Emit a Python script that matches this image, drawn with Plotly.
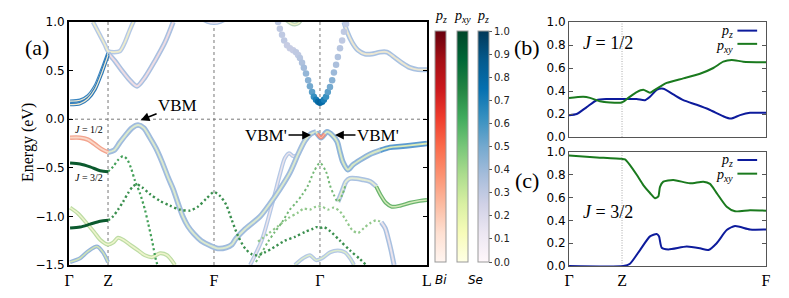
import plotly.graph_objects as go

# ---------------- high-symmetry path ----------------
kpath_pos = [0.0, 0.109, 0.405, 0.701, 1.0]
kpath_lab = ["Γ", "Z", "F", "Γ", "L"]
e_ticks = [-1.5, -1.0, -0.5, 0.0, 0.5, 1.0]

# ---------------- bands (k, E in eV) ----------------
A1_k = [0.003, 0.031, 0.053, 0.073, 0.092, 0.109]
A1_e = [0.15, 0.16, 0.21, 0.31, 0.48, 0.66]
A1b_e = [0.185, 0.195, 0.24, 0.34, 0.51, 0.68]

A2_k = [0.109, 0.128, 0.148, 0.170, 0.190, 0.212, 0.240, 0.268, 0.291]
A2_e = [0.68, 0.60, 0.50, 0.40, 0.34, 0.43, 0.60, 0.79, 1.0]

B_k = [0.067, 0.087, 0.101, 0.109, 0.126, 0.142, 0.156, 0.170, 0.182]
B_e = [1.0, 0.86, 0.76, 0.70, 0.69, 0.70, 0.79, 0.92, 1.02]

C_k = [0.584, 0.589, 0.595, 0.601, 0.609, 0.617, 0.626, 0.634, 0.640, 0.645, 0.651,
       0.656, 0.662, 0.668, 0.673, 0.679, 0.684, 0.690, 0.696, 0.701, 0.707, 0.712,
       0.718, 0.723, 0.729, 0.735, 0.740, 0.746, 0.751, 0.757, 0.763, 0.768, 0.774]
C_e = [1.0, 0.93, 0.87, 0.81, 0.76, 0.73, 0.71, 0.69, 0.66, 0.63, 0.58,
       0.53, 0.47, 0.40, 0.34, 0.28, 0.23, 0.20, 0.18, 0.17, 0.18, 0.20,
       0.23, 0.28, 0.33, 0.40, 0.48, 0.56, 0.64, 0.73, 0.81, 0.90, 0.98]
C_w = [0.3, 0.3, 0.3, 0.3, 0.28, 0.28, 0.28, 0.3, 0.3, 0.32, 0.35,
       0.38, 0.42, 0.45, 0.5, 0.55, 0.62, 0.7, 0.78, 0.82, 0.78, 0.7,
       0.62, 0.55, 0.5, 0.45, 0.4, 0.36, 0.34, 0.32, 0.3, 0.3, 0.3]

D_k = [0.768, 0.777, 0.791, 0.807, 0.827, 0.846, 0.869, 0.888, 0.908, 0.930, 0.953, 0.975, 1.0]
D_e = [1.0, 0.90, 0.79, 0.71, 0.67, 0.67, 0.69, 0.69, 0.64, 0.58, 0.53, 0.51, 0.51]

E1_k = [0.366, 0.385, 0.405, 0.425, 0.444]
E1_e = [1.04, 1.005, 0.99, 1.005, 1.04]
E2_k = [0.600, 0.620, 0.631, 0.642, 0.651]
E2_e = [1.04, 0.985, 0.975, 0.99, 1.04]

V1a_k = [0.003, 0.031, 0.053, 0.073, 0.092, 0.109]
V1a_e = [-0.19, -0.19, -0.21, -0.26, -0.31, -0.34]

V1b_k = [0.109, 0.126, 0.142, 0.159, 0.176, 0.193, 0.209, 0.226, 0.243, 0.260, 0.277,
         0.291, 0.304, 0.318, 0.332, 0.349, 0.369, 0.394, 0.416, 0.439, 0.455, 0.466,
         0.492, 0.534, 0.561, 0.589, 0.617, 0.640, 0.659, 0.676, 0.690]
V1b_e = [-0.34, -0.32, -0.24, -0.16, -0.09, -0.06, -0.09, -0.19, -0.30, -0.44, -0.60,
         -0.72, -0.86, -1.00, -1.10, -1.18, -1.25, -1.30, -1.33, -1.32, -1.29, -1.23,
         -1.13, -1.00, -0.87, -0.72, -0.55, -0.36, -0.22, -0.15, -0.13]

V1c_k = [0.690, 0.704, 0.721, 0.737, 0.749, 0.757, 0.765, 0.779, 0.793, 0.813,
         0.841, 0.869]
V1c_e = [-0.13, -0.19, -0.13, -0.17, -0.23, -0.34, -0.44, -0.52, -0.47, -0.42,
         -0.36, -0.32]
V1d_k = [0.869, 0.897, 0.925, 0.953, 1.0]
V1d_e = [-0.32, -0.29, -0.28, -0.27, -0.25]

R_k = [0.694, 0.704, 0.714]
R_e = [-0.15, -0.19, -0.15]

DG1_k = [0.003, 0.031, 0.059, 0.087, 0.109]
DG1_e = [-0.45, -0.46, -0.49, -0.53, -0.54]
DG2_e = [-1.12, -1.11, -1.08, -1.05, -1.04]

V2_k = [0.109, 0.123, 0.137, 0.151, 0.162, 0.173, 0.184, 0.198, 0.212, 0.221, 0.232, 0.243, 0.249]
V2_e = [-0.54, -0.49, -0.42, -0.38, -0.41, -0.50, -0.63, -0.76, -0.93, -1.07, -1.25, -1.45, -1.52]

G1_k = [0.109, 0.123, 0.137, 0.151, 0.165, 0.179, 0.190, 0.204, 0.226, 0.254, 0.282,
        0.310, 0.338, 0.360, 0.383, 0.405, 0.422, 0.439, 0.455, 0.472, 0.492, 0.511,
        0.528, 0.547, 0.567, 0.603, 0.631, 0.659, 0.679, 0.690, 0.701, 0.712, 0.729,
        0.757, 0.785, 0.813, 0.830]
G1_e = [-1.04, -1.00, -0.93, -0.85, -0.76, -0.69, -0.67, -0.70, -0.77, -0.84, -0.89,
        -0.93, -0.94, -0.90, -0.82, -0.75, -0.79, -0.88, -1.04, -1.20, -1.33, -1.39,
        -1.40, -1.37, -1.33, -1.25, -1.21, -1.16, -1.13, -1.11, -1.12, -1.11, -1.15,
        -1.25, -1.35, -1.44, -1.50]

LG1_k = [0.003, 0.025, 0.047, 0.070, 0.087, 0.109, 0.123, 0.137, 0.151, 0.170,
         0.193, 0.212, 0.232, 0.254, 0.274, 0.296]
LG1_e = [-0.91, -0.97, -1.06, -1.16, -1.24, -1.29, -1.27, -1.22, -1.24, -1.29,
         -1.35, -1.40, -1.42, -1.38, -1.40, -1.50]

BL_k = [0.003, 0.031, 0.053, 0.078, 0.095, 0.109]
BL_e = [-1.47, -1.43, -1.36, -1.31, -1.37, -1.47]

G2_k = [0.528, 0.556, 0.584, 0.612, 0.640, 0.656, 0.673, 0.690, 0.707, 0.723, 0.740,
        0.757, 0.774, 0.791, 0.807, 0.824, 0.841, 0.858, 0.872]
G2_e = [-1.26, -1.18, -1.10, -1.02, -0.96, -0.92, -0.93, -0.90, -0.90, -0.93, -0.91,
        -0.95, -1.04, -1.14, -1.17, -1.12, -1.07, -1.04, -1.06]

BT_k = [0.872, 0.883, 0.891, 0.899, 0.908]
BT_e = [-1.06, -1.12, -1.22, -1.34, -1.50]

P_k = [0.522, 0.539, 0.556, 0.575, 0.595, 0.617, 0.634, 0.651, 0.668, 0.684, 0.701,
       0.718, 0.729, 0.740, 0.751, 0.763, 0.774]
P_e = [-1.47, -1.37, -1.26, -1.16, -1.06, -0.93, -0.86, -0.78, -0.68, -0.54, -0.45,
       -0.54, -0.68, -0.78, -0.85, -0.78, -0.66]

G3a_k = [0.751, 0.763, 0.774, 0.785, 0.802, 0.818, 0.841, 0.858]
G3a_e = [-0.85, -0.74, -0.64, -0.61, -0.61, -0.62, -0.64, -0.69]
G3b_k = [0.858, 0.872, 0.885, 0.902, 0.925, 0.953, 0.980, 1.0]
G3b_e = [-0.69, -0.79, -0.86, -0.90, -0.89, -0.86, -0.84, -0.83]

VX_k = [0.506, 0.539, 0.567, 0.589, 0.603, 0.615, 0.626, 0.640]
VX_e = [-1.50, -1.24, -0.88, -0.57, -0.40, -0.35, -0.38, -0.37]

G4_k = [0.631, 0.654, 0.673, 0.690, 0.707, 0.729, 0.751, 0.771, 0.785, 0.796]
G4_e = [-1.50, -1.43, -1.40, -1.45, -1.43, -1.37, -1.35, -1.37, -1.43, -1.50]

# ---------------- orbital weights, panels (b) and (c) ----------------
pb_z_k = [0.0, 0.0158, 0.0364, 0.0569, 0.0775, 0.1083, 0.1392, 0.1562, 0.1665, 0.1803,
          0.1939, 0.2144, 0.2350, 0.2625, 0.2899, 0.3172, 0.3324, 0.3516, 0.3721, 0.405]
pb_z = [0.19, 0.20, 0.26, 0.32, 0.33, 0.33, 0.33, 0.32, 0.35, 0.41,
        0.42, 0.37, 0.32, 0.28, 0.235, 0.18, 0.16, 0.19, 0.21, 0.21]
pb_xy_k = [0.0, 0.0294, 0.0432, 0.0637, 0.0843, 0.1083, 0.1219, 0.1392, 0.1527, 0.1665,
           0.1803, 0.2009, 0.2350, 0.2693, 0.2967, 0.3172, 0.3345, 0.3583, 0.405]
pb_xy = [0.34, 0.35, 0.34, 0.31, 0.30, 0.30, 0.34, 0.39, 0.41, 0.385,
         0.42, 0.47, 0.51, 0.55, 0.60, 0.655, 0.67, 0.655, 0.65]

pc_xy_k = [0.0, 0.0500, 0.1083, 0.1151, 0.1254, 0.1392, 0.1527, 0.1665, 0.1768, 0.1836,
           0.1871, 0.1939, 0.2144, 0.2488, 0.2761, 0.2899, 0.3036, 0.3242, 0.3413, 0.3721, 0.405]
pc_xy = [0.97, 0.955, 0.94, 0.935, 0.885, 0.80, 0.71, 0.64, 0.595, 0.61,
         0.695, 0.74, 0.755, 0.725, 0.74, 0.72, 0.64, 0.52, 0.48, 0.49, 0.485]
pc_z_k = [0.0, 0.1117, 0.1254, 0.1460, 0.1665, 0.1803, 0.1850, 0.1906, 0.2042, 0.2420,
          0.2693, 0.2864, 0.3036, 0.3242, 0.3413, 0.3721, 0.405]
pc_z = [0.0, 0.0, 0.02, 0.14, 0.26, 0.28, 0.26, 0.16, 0.145, 0.17,
        0.155, 0.14, 0.20, 0.315, 0.35, 0.32, 0.32]

cb_ticks = [0.0, 0.1, 0.2, 0.3, 0.4, 0.5, 0.6, 0.7, 0.8, 0.9, 1.0]

SERIF = "Liberation Serif"
SANS = "DejaVu Sans"

fig = go.Figure()


def tube(k, e, outer, inner, wo=5.0, wi=2.0):
    fig.add_trace(go.Scatter(x=k, y=e, mode="lines", hoverinfo="skip", showlegend=False,
                             line=dict(color=outer, width=wo, shape="spline", smoothing=0.8)))
    fig.add_trace(go.Scatter(x=k, y=e, mode="lines", hoverinfo="skip", showlegend=False,
                             line=dict(color=inner, width=wi, shape="spline", smoothing=0.8)))


def dots(k, e, color, w=2.2, gap="2.2px,2.6px"):
    fig.add_trace(go.Scatter(x=k, y=e, mode="lines", hoverinfo="skip", showlegend=False,
                             line=dict(color=color, width=w, dash=gap, shape="spline", smoothing=0.8)))


def solid(k, e, color, w=3.0, xa="x", ya="y", smooth=0.8):
    fig.add_trace(go.Scatter(x=k, y=e, mode="lines", hoverinfo="skip", showlegend=False,
                             xaxis=xa, yaxis=ya,
                             line=dict(color=color, width=w, shape="spline", smoothing=smooth)))


LB_OUT, LB_IN = "#a9c0e1", "#ebe4ec"

# light big-circle bands
tube(B_k, B_e, "#b4c8e6", "#eeeccc", 4.5, 1.8)
tube(A2_k, A2_e, LB_OUT, "#eedde4", 5, 2)
tube(D_k, D_e, "#a8c1e2", "#ece7d2", 5, 2)
tube(E1_k, E1_e, LB_OUT, LB_IN, 4, 1.5)
tube(E2_k, E2_e, "#b4d0b8", "#eef0c8", 4, 1.5)
tube(VX_k, VX_e, "#b4c8e6", LB_IN, 4, 1.5)
tube(G4_k, G4_e, "#b4c8e6", "#dceccc", 4, 1.5)
tube(BL_k, BL_e, "#94b4dc", "#cfe3b4", 4, 1.6)
tube(LG1_k, LG1_e, "#bcdca4", "#eef4cc", 4, 1.6)
tube(V1b_k, V1b_e, "#9fbbde", "#dbe9ce", 5.5, 2)
tube(V1c_k, V1c_e, "#8fb4da", "#d7e8c4", 5.5, 2)
tube(V1d_k, V1d_e, "#5c9bd0", "#dcecb8", 5.5, 1.8)
tube(V1a_k, V1a_e, "#f3a48e", "#fbd8c8", 4.5, 1.8)
tube(R_k, R_e, "#f08a78", "#f6b8a8", 3.5, 1.2)
tube(G3a_k, G3a_e, "#aac2e2", "#e4ecd4", 5, 2)
tube(G3b_k, G3b_e, "#6ab46e", "#d2eab8", 4, 1.5)
tube(BT_k, BT_e, "#a8c0e0", LB_IN, 5, 2)
tube(A1_k, A1b_e, "#3a86c2", "#f2ead0", 3.5, 1.2)
tube(A1_k, A1_e, "#2b78b8", "#f2ead0", 3.5, 1.2)

# green small-dot bands
dots(G2_k, G2_e, "#92c88c", 2.2)
dots(P_k, P_e, "#74b876", 2.0)
dots(V2_k, V2_e, "#43a058", 2.2)
dots(G1_k, G1_e, "#3a8f4e", 2.4)

# dark green J=3/2 bands
solid(DG1_k, DG1_e, "#0b5a2e", 3)
solid(DG1_k, DG2_e, "#0b5a2e", 3)

# conduction parabola at Gamma (separate circles)
fig.add_trace(go.Scatter(x=C_k, y=C_e, mode="markers", hoverinfo="skip", showlegend=False,
                         marker=dict(size=6.5, color=C_w, coloraxis="coloraxis3",
                                     line=dict(width=0))))

# colorbar carriers (outside visible range)
for ca in ["coloraxis", "coloraxis2", "coloraxis3"]:
    fig.add_trace(go.Scatter(x=[-5], y=[-9], mode="markers", hoverinfo="skip", showlegend=False,
                             marker=dict(size=1, color=[0.5], coloraxis=ca)))

# panels (b) and (c)
C_PZ, C_PXY = "#0d1b9c", "#1a7a1e"
solid(pb_z_k, pb_z, C_PZ, 2, "x2", "y2", 0.6)
solid(pb_xy_k, pb_xy, C_PXY, 2, "x2", "y2", 0.6)
solid(pc_z_k, pc_z, C_PZ, 2, "x3", "y3", 0.6)
solid(pc_xy_k, pc_xy, C_PXY, 2, "x3", "y3", 0.6)

W, H = 789, 298
def px(x):
    return x / W
def py(y):
    return (H - y) / H

cb_common = dict(xanchor="left", xpad=0, ypad=0, thickness=11, thicknessmode="pixels",
                 len=231, lenmode="pixels", y=py(146.5), yanchor="middle",
                 outlinewidth=1, outlinecolor="#999999")

fig.update_layout(
    width=W, height=H, margin=dict(l=0, r=0, t=0, b=0, autoexpand=False),
    paper_bgcolor="white", plot_bgcolor="white",
    coloraxis=dict(colorscale="Reds", cmin=0, cmax=1,
                   colorbar=dict(x=px(435), tickmode="array", tickvals=[], ticks="", **cb_common)),
    coloraxis2=dict(colorscale="YlGn", cmin=0, cmax=1,
                    colorbar=dict(x=px(457), tickmode="array", tickvals=[], ticks="", **cb_common)),
    coloraxis3=dict(colorscale="PuBu", cmin=0, cmax=1,
                    colorbar=dict(x=px(478), tickvals=cb_ticks,
                                  ticktext=[f"{v:.1f}" for v in cb_ticks],
                                  ticks="outside", ticklen=3, tickcolor="#555",
                                  tickfont=dict(family=SANS, size=10, color="#222"),
                                  **cb_common)),
    xaxis=dict(domain=[px(69), px(427)], range=[0, 1], tickvals=kpath_pos, ticktext=kpath_lab,
               showline=True, linewidth=2, linecolor="black", mirror=True, ticks="",
               showgrid=False, zeroline=False,
               tickfont=dict(family=SERIF, size=16, color="black")),
    yaxis=dict(domain=[py(265), py(22)], range=[-1.5, 1.0], tickvals=e_ticks,
               ticktext=["−1.5", "−1.0", "−0.5", "0.0", "0.5", "1.0"],
               showline=True, linewidth=2, linecolor="black", mirror="ticks", ticks="inside",
               ticklen=4, tickcolor="black", showgrid=False, zeroline=False,
               tickfont=dict(family=SANS, size=12, color="black")),
    xaxis2=dict(domain=[px(569), px(766)], range=[0, 0.405], anchor="y2",
                tickmode="array", tickvals=[],
                showline=True, linewidth=1, linecolor="#555", mirror=True, ticks="",
                showgrid=False, zeroline=False),
    yaxis2=dict(domain=[py(137), py(22)], range=[0, 1], anchor="x2",
                tickvals=[0, 0.2, 0.4, 0.6, 0.8, 1.0],
                ticktext=["0.0", "0.2", "0.4", "0.6", "0.8", "1.0"],
                showline=True, linewidth=1, linecolor="#555", mirror="ticks", ticks="inside",
                ticklen=4, tickcolor="#555", showgrid=False, zeroline=False,
                tickfont=dict(family=SANS, size=12, color="black")),
    xaxis3=dict(domain=[px(569), px(766)], range=[0, 0.405], anchor="y3",
                tickvals=[kpath_pos[0], kpath_pos[1], kpath_pos[2]],
                ticktext=[kpath_lab[0], kpath_lab[1], kpath_lab[2]],
                showline=True, linewidth=1, linecolor="#555", mirror=True, ticks="",
                showgrid=False, zeroline=False,
                tickfont=dict(family=SERIF, size=16, color="black")),
    yaxis3=dict(domain=[py(266), py(152)], range=[0, 1], anchor="x3",
                tickvals=[0, 0.2, 0.4, 0.6, 0.8, 1.0],
                ticktext=["0.0", "0.2", "0.4", "0.6", "0.8", "1.0"],
                showline=True, linewidth=1, linecolor="#555", mirror="ticks", ticks="inside",
                ticklen=4, tickcolor="#555", showgrid=False, zeroline=False,
                tickfont=dict(family=SANS, size=12, color="black")),
)

shapes = []
for kv in kpath_pos[1:4]:
    shapes.append(dict(type="line", xref="x", yref="y domain", x0=kv, x1=kv, y0=0, y1=1,
                       line=dict(color="#777", width=1, dash="3px,3px"), layer="below"))
shapes.append(dict(type="line", xref="x domain", yref="y", x0=0, x1=1, y0=0, y1=0,
                   line=dict(color="#777", width=1, dash="3px,3px"), layer="below"))
for ax in ["2", "3"]:
    shapes.append(dict(type="line", xref="x" + ax, yref="y" + ax + " domain",
                       x0=kpath_pos[1], x1=kpath_pos[1], y0=0, y1=1,
                       line=dict(color="#aaa", width=1, dash="1px,1.5px"), layer="below"))
# legend samples for (b) and (c)
for ax, ys in [("2", (0.925, 0.81)), ("3", (0.93, 0.81))]:
    for yy, col in zip(ys, [C_PZ, C_PXY]):
        shapes.append(dict(type="line", xref="x" + ax + " domain", yref="y" + ax + " domain",
                           x0=0.855, x1=0.955, y0=yy, y1=yy, line=dict(color=col, width=2)))
fig.update_layout(shapes=shapes)

ann = []
def txt(x, y, s, size, family=SERIF, xanchor="center", angle=0, color="black"):
    ann.append(dict(x=px(x), y=py(y), xref="paper", yref="paper", text=s, showarrow=False,
                    xanchor=xanchor, yanchor="middle", textangle=angle,
                    font=dict(family=family, size=size, color=color)))

txt(37, 47, "(a)", 22)
txt(28, 143, "Energy (eV)", 16, angle=-90)
txt(89, 129, "<i>J</i> = 1/2", 10)
txt(89, 177, "<i>J</i> = 3/2", 10)
txt(441, 17, "<i>p<sub>z</sub></i>", 14)
txt(462, 17, "<i>p<sub>xy</sub></i>", 14)
txt(483, 17, "<i>p<sub>z</sub></i>", 14)
txt(441, 280, "<i>Bi</i>", 12, family=SANS)
txt(475, 280, "<i>Se</i>", 12, family=SANS)
txt(527, 47, "(b)", 22)
txt(527, 180, "(c)", 22)
txt(608, 43, "<i>J</i> = 1/2", 18)
txt(608, 212, "<i>J</i> = 3/2", 18)
txt(735, 32, "<i>p<sub>z</sub></i>", 14, xanchor="right")
txt(735, 46, "<i>p<sub>xy</sub></i>", 14, xanchor="right")
txt(735, 161, "<i>p<sub>z</sub></i>", 14, xanchor="right")
txt(735, 175, "<i>p<sub>xy</sub></i>", 14, xanchor="right")

arrow = dict(showarrow=True, arrowhead=2, arrowsize=1.1, arrowwidth=1.6, arrowcolor="black",
             xref="x", yref="y", font=dict(family=SERIF, size=17, color="black"))
ann.append(dict(x=0.200, y=-0.01, text="VBM", ax=37, ay=-15, **arrow))
ann.append(dict(x=0.676, y=-0.163, text="VBM'", ax=-45, ay=0, **arrow))
ann.append(dict(x=0.743, y=-0.163, text="VBM'", ax=43, ay=0, **arrow))
fig.update_layout(annotations=ann)

fig.write_html("out.html", config={"displayModeBar": False},
               post_script="document.body.style.margin='0';")
